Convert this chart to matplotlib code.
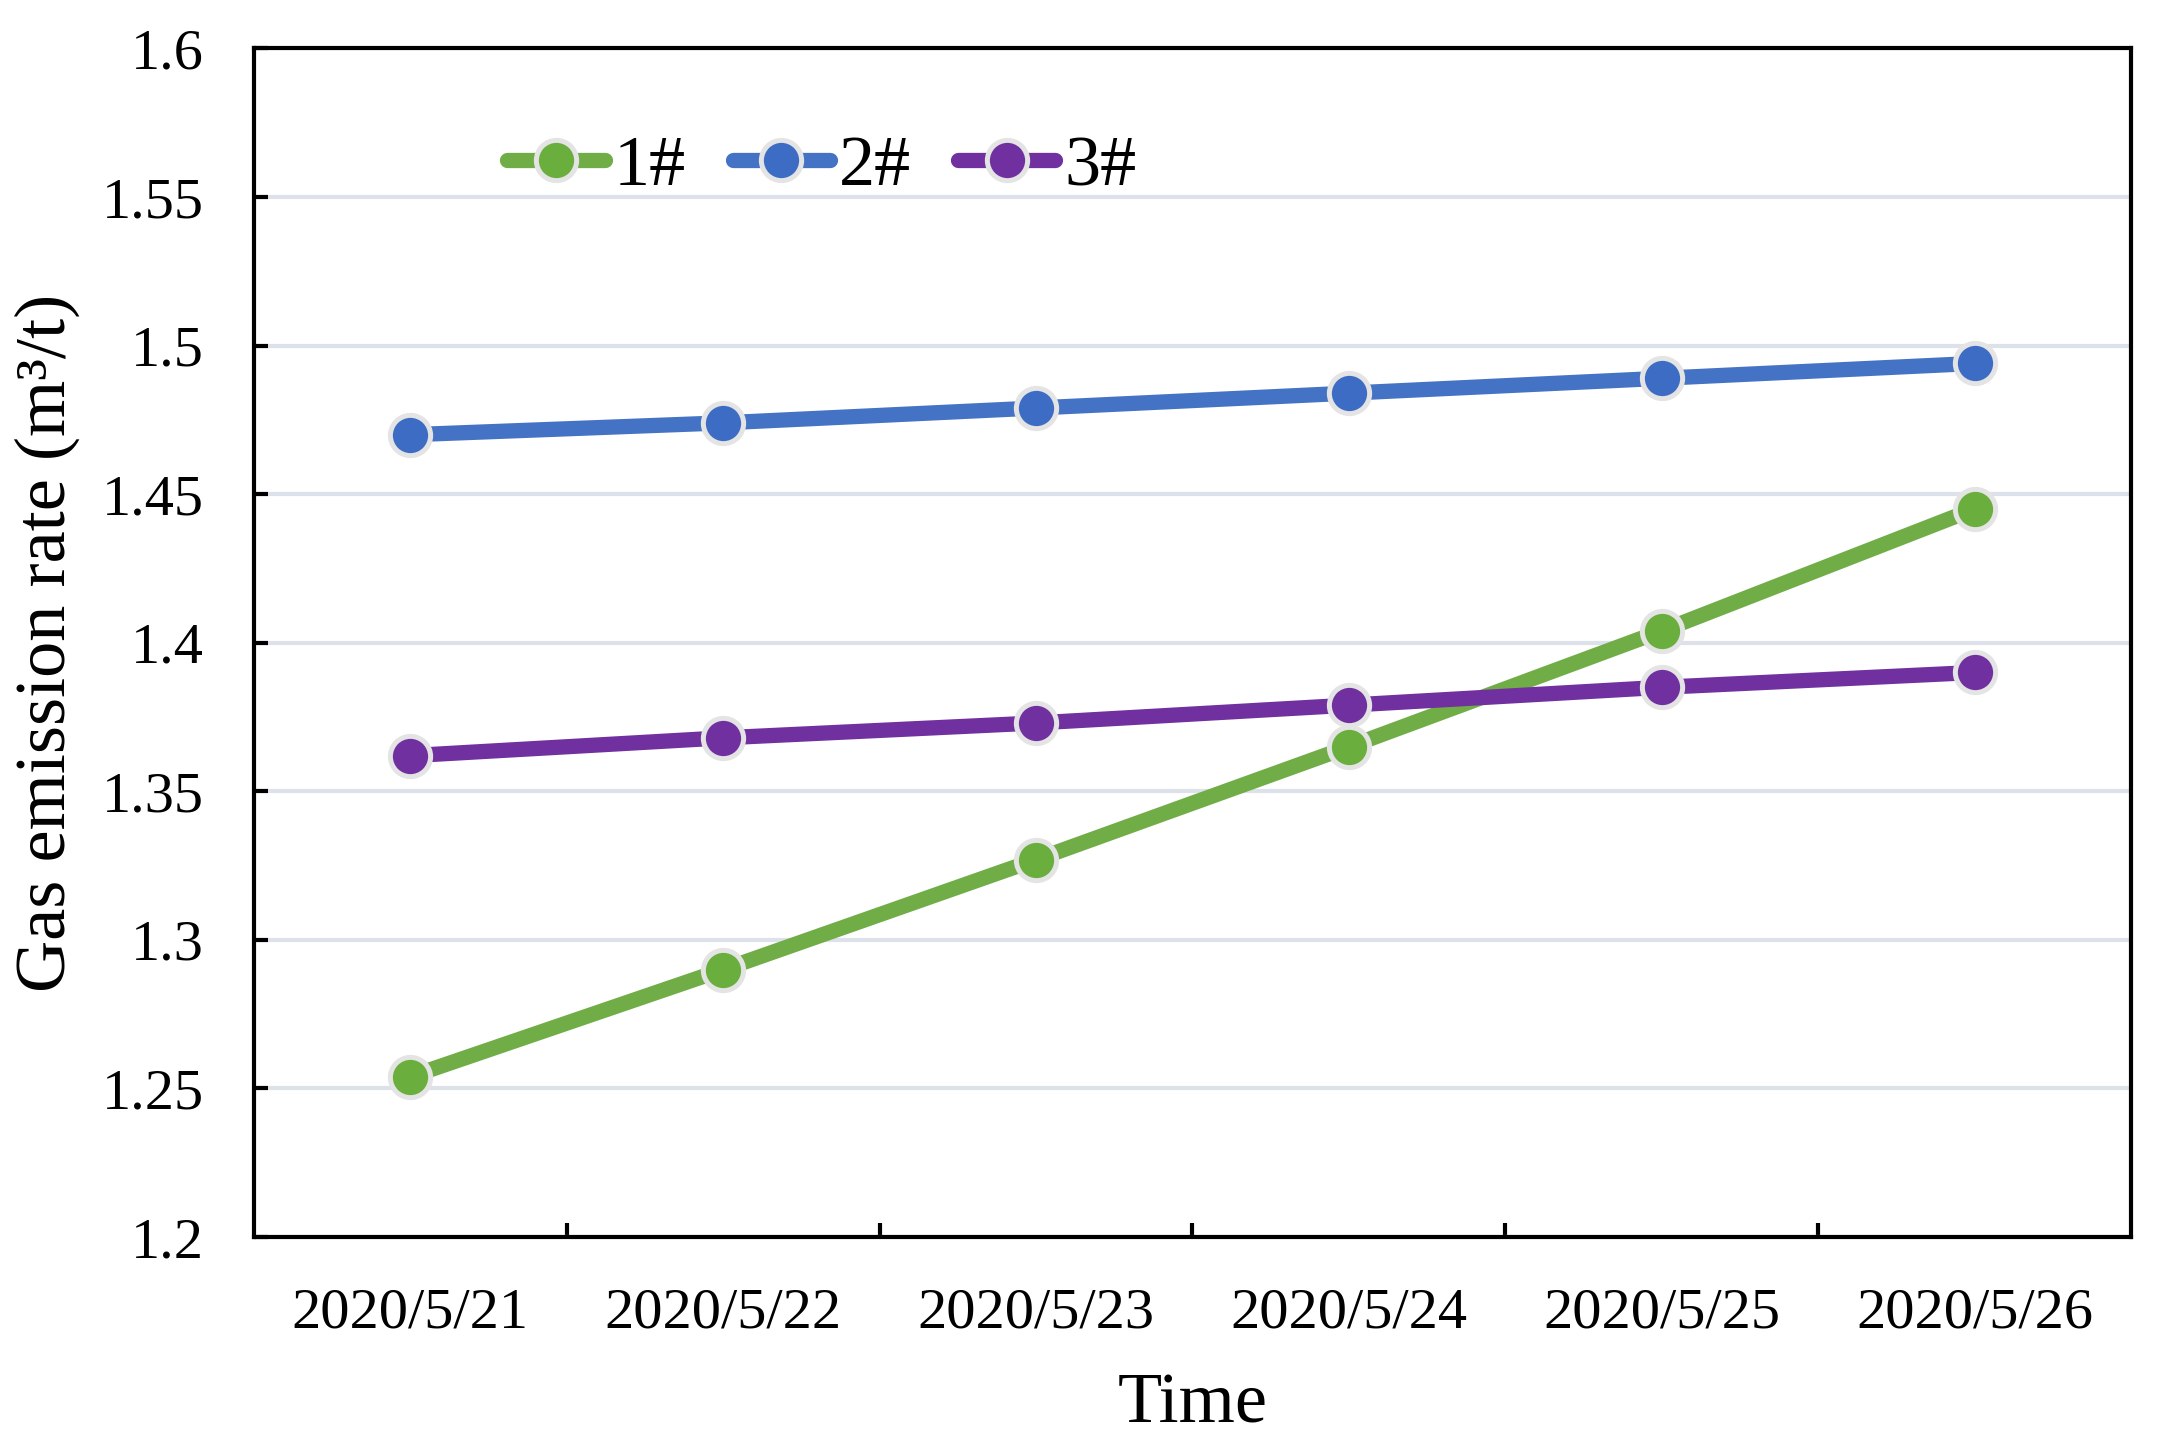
import matplotlib
matplotlib.use("Agg")
import matplotlib.pyplot as plt
import numpy as np

plt.rcParams["font.family"] = ["Liberation Serif", "DejaVu Serif"]

dates = ["2020/5/21", "2020/5/22", "2020/5/23", "2020/5/24", "2020/5/25", "2020/5/26"]
well_1 = [1.254, 1.290, 1.327, 1.365, 1.404, 1.445]
well_2 = [1.470, 1.474, 1.479, 1.484, 1.489, 1.494]
well_3 = [1.362, 1.368, 1.373, 1.379, 1.385, 1.390]
series_names = ["1#", "2#", "3#"]
y_ticks = [1.2, 1.25, 1.3, 1.35, 1.4, 1.45, 1.5, 1.55, 1.6]
y_tick_labels = ["1.2", "1.25", "1.3", "1.35", "1.4", "1.45", "1.5", "1.55", "1.6"]

line_colors = ["#70AD47", "#4472C4", "#7030A0"]
marker_colors = ["#6AAE3E", "#3D6CC4", "#7030A0"]

fig = plt.figure(figsize=(10.87, 7.23), dpi=200)
ax = fig.add_axes([0.1168, 0.1445, 0.8634, 0.822])

x = np.arange(len(dates))
for values, name, lc, mc in zip([well_1, well_2, well_3], series_names, line_colors, marker_colors):
    ax.plot(x, values, color=lc, linewidth=5.5, marker="o", markersize=14.5,
            markerfacecolor=mc, markeredgecolor="#E4E4E4", markeredgewidth=1.8,
            label=name, zorder=3, solid_capstyle="round")

ax.set_xlim(-0.5, len(dates) - 0.5)
ax.set_ylim(1.2, 1.6)
ax.set_yticks(y_ticks)
ax.set_yticklabels(y_tick_labels)
ax.set_xticks(x)
ax.set_xticklabels(dates)
ax.set_xticks(np.arange(0.5, len(dates) - 0.5, 1), minor=True)

ax.tick_params(axis="x", which="major", length=0, labelsize=21, pad=18)
ax.tick_params(axis="x", which="minor", direction="in", length=5, width=1.5, color="black")
ax.tick_params(axis="y", direction="in", length=5, width=1.5, labelsize=21, pad=18)

ax.yaxis.grid(True, color="#DDE1EA", linewidth=1.5, zorder=0)
ax.set_axisbelow(True)
for spine in ax.spines.values():
    spine.set_linewidth(1.5)
    spine.set_color("black")

ax.set_xlabel("Time", fontsize=26, labelpad=12)
ax.set_ylabel("Gas emission rate (m\u00b3/t)", fontsize=26, labelpad=8)

ax.legend(loc="center left", bbox_to_anchor=(0.135, 0.9), ncol=3, frameon=False,
          fontsize=26, handlelength=1.35, handletextpad=0.12, columnspacing=0.65,
          borderpad=0, borderaxespad=0)

fig.savefig("out.png", dpi=200)
